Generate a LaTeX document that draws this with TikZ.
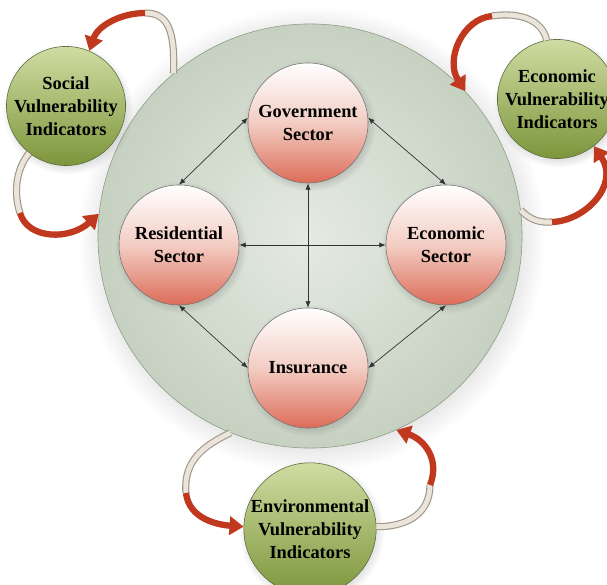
\documentclass[tikz,border=0pt]{standalone}
\usepackage{fontspec}
\setmainfont{Liberation Serif}
\usetikzlibrary{arrows.meta,shadows}

\definecolor{hubin}{RGB}{229,234,226}
\definecolor{hubout}{RGB}{198,209,193}
\definecolor{hubline}{RGB}{138,154,132}
\definecolor{secmid}{RGB}{243,205,195}
\definecolor{secbot}{RGB}{220,108,88}
\definecolor{leaftop}{RGB}{208,220,162}
\definecolor{leafbot}{RGB}{124,150,60}
\definecolor{leafline}{RGB}{88,104,58}
\definecolor{feedred}{RGB}{192,57,30}
\definecolor{tubeline}{RGB}{160,150,135}
\definecolor{tubefill}{RGB}{234,228,218}

\begin{document}
\begin{tikzpicture}[x=0.025cm, y=0.025cm, font=\bfseries\fontsize{13.1}{16.5}\selectfont, hub/.style={circle, draw=hubline, thin, inner color=hubin, outer color=hubout, minimum size=10.6cm, circular drop shadow={shadow xshift=1pt, shadow yshift=-2pt, opacity=0.25}}, sector/.style={circle, draw=black!55, thin, minimum size=3cm, inner sep=0pt, align=center, top color=white, bottom color=secbot, middle color=secmid, circular drop shadow={shadow xshift=1pt, shadow yshift=-1.5pt, opacity=0.35}}, indicator/.style={circle, draw=leafline, thin, minimum size=2.85cm, inner sep=0pt, align=center, top color=leaftop, bottom color=leafbot, circular drop shadow={shadow xshift=1pt, shadow yshift=-2pt, opacity=0.25}}, link/.style={{Latex[length=1.6mm,width=1.3mm]}-{Latex[length=1.6mm,width=1.3mm]}, black!80, line width=0.5pt}, tube/.style={draw=tubeline, line width=0.8pt, double=tubefill, double distance=3.5pt}, feed/.style={-{Triangle[length=10pt,width=13pt]}, draw=feedred, line width=4.5pt}]
\useasboundingbox (0,0) rectangle (607,585);
\node[hub] (hub) at (310,349) {};
\node[sector] (gov) at (308,462) {Government\\Sector};
\node[sector] (res) at (179,340) {Residential\\Sector};
\node[sector] (eco) at (446,340) {Economic\\Sector};
\node[sector] (ins) at (308,217) {Insurance};
\node[indicator] (svi) at (66,479) {Social\\Vulnerability\\Indicators};
\node[indicator] (evi) at (557,486) {Economic\\Vulnerability\\Indicators};
\node[indicator] (nvi) at (310,56) {Environmental\\Vulnerability\\Indicators};
\draw[link] (gov.175) -- (res.90); \draw[link] (gov.5) -- (eco.90); \draw[link] (res.270) -- (ins.180); \draw[link] (eco.270) -- (ins.0);
\draw[link] (res.east) -- (eco.west); \draw[link] (gov.south) -- (ins.north);
% feedback loops between the hub and the indicators
\coordinate (sA) at (145,572); \coordinate (sB) at (20,372); \coordinate (sC) at (492,569);
\coordinate (sD) at (552,363); \coordinate (sE) at (186,92); \coordinate (sF) at (430,100);
\draw[tube] (hub.130) .. controls (175,555) and (168,572) .. (sA); \draw[feed] (sA) .. controls (122,572) and (98,560) .. (svi.67);
\draw[tube] (svi.232) .. controls (15,415) and (14,390) .. (sB); \draw[feed] (sB) .. controls (28,345) and (70,345) .. (hub.174);
\draw[tube] (evi.100) .. controls (542,566) and (518,573) .. (sC); \draw[feed] (sC) .. controls (462,566) and (445,525) .. (hub.43);
\draw[tube] (hub.7) .. controls (530,365) and (540,362) .. (sD); \draw[feed] (sD) .. controls (585,364) and (620,400) .. (evi.308);
\draw[tube] (hub.248) .. controls (205,140) and (183,125) .. (sE); \draw[feed] (sE) .. controls (189,65) and (220,60) .. (nvi.178);
\draw[tube] (nvi.2) .. controls (405,58) and (430,70) .. (sF); \draw[feed] (sF) .. controls (440,125) and (425,145) .. (hub.294);
\end{tikzpicture}
\end{document}
